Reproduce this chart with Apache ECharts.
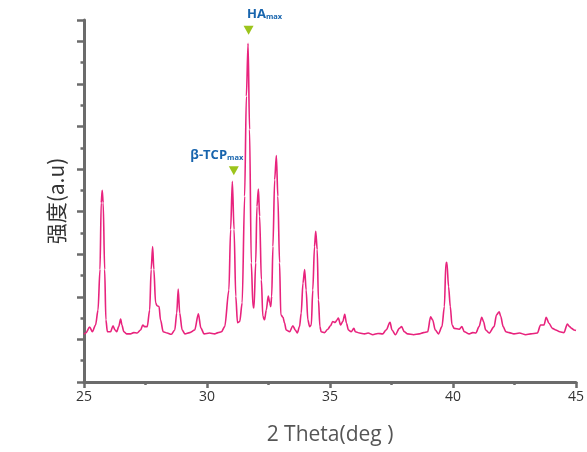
<!DOCTYPE html>
<html><head><meta charset="utf-8">
<script src="https://cdn.jsdelivr.net/npm/echarts@6/dist/echarts.min.js"></script>
<style>html,body{margin:0;padding:0;background:#fff}#c{width:587px;height:452px}</style>
</head><body><div id="c"></div>
<script>
var twoTheta = [25.0,25.07,25.23,25.34,25.47,25.57,25.65,25.70,25.74,25.78,25.84,25.89,25.95,26.08,26.18,26.26,26.33,26.41,26.49,26.54,26.62,26.73,26.89,27.02,27.16,27.30,27.39,27.46,27.57,27.67,27.73,27.79,27.84,27.91,27.97,28.05,28.11,28.22,28.38,28.55,28.69,28.77,28.83,28.89,28.99,29.10,29.30,29.50,29.65,29.75,29.88,30.10,30.31,30.45,30.59,30.72,30.89,30.96,31.03,31.10,31.17,31.24,31.33,31.43,31.53,31.60,31.67,31.73,31.80,31.87,31.91,31.98,32.03,32.09,32.14,32.21,32.27,32.34,32.41,32.49,32.55,32.59,32.63,32.68,32.75,32.82,32.88,32.95,33.00,33.09,33.15,33.22,33.36,33.49,33.59,33.67,33.76,33.83,33.90,33.97,34.03,34.10,34.17,34.24,34.30,34.37,34.42,34.48,34.53,34.59,34.64,34.78,34.91,35.02,35.11,35.21,35.29,35.34,35.43,35.52,35.60,35.67,35.75,35.86,35.97,36.03,36.20,36.40,36.55,36.74,36.95,37.14,37.28,37.44,37.52,37.66,37.82,37.91,38.02,38.16,38.40,38.63,38.80,38.97,39.09,39.17,39.28,39.41,39.55,39.65,39.71,39.75,39.82,39.89,39.96,40.05,40.25,40.36,40.46,40.66,40.80,40.93,41.06,41.17,41.24,41.33,41.47,41.67,41.77,41.88,41.94,42.04,42.15,42.28,42.48,42.70,42.96,43.16,43.43,43.56,43.70,43.79,43.90,44.04,44.18,44.34,44.51,44.65,44.74,44.82,44.92,45.0];
var intensity = [112,115,129,118,134,169,264,421,450,421,264,146,118,118,132,122,118,130,148,134,118,113,113,116,115,122,134,130,130,169,264,318,264,186,179,177,146,118,115,112,122,162,218,162,122,113,116,122,160,127,113,115,113,116,118,130,216,358,471,358,201,139,142,186,436,671,795,593,280,177,174,280,412,453,389,240,154,146,169,202,186,177,201,318,475,532,436,280,158,152,139,122,118,132,122,115,130,162,232,264,216,146,130,134,216,318,354,311,193,130,118,116,124,132,142,140,146,150,134,142,159,138,122,118,126,118,115,113,115,111,114,113,122,140,122,111,126,130,118,113,111,113,116,118,153,146,122,113,130,177,279,281,224,177,134,126,124,130,118,113,116,115,130,152,142,122,115,130,158,165,154,130,118,116,113,115,111,113,115,134,134,152,138,126,122,118,116,136,130,126,122,121];
var peakNames = ['HA', 'β-TCP'];
var peakX = [31.69, 31.09];
var peakY = [826, 496];
var xTicks = [25, 30, 35, 40, 45];

var data = twoTheta.map(function(t,i){return [t, intensity[i]];});
var chart = echarts.init(document.getElementById('c'));
var axisCol = '#6b6b6b';
var richLbl = {a:{fontFamily:'Open Sans',fontWeight:'bold',fontSize:13,color:'#1764ad'},b:{fontFamily:'Open Sans',fontWeight:'bold',fontSize:7.5,color:'#1764ad',padding:[5,0,0,0]}};
chart.setOption({
  animation:false,
  grid:{left:84,right:10,top:20,bottom:70},
  xAxis:{type:'value',min:xTicks[0],max:xTicks[xTicks.length-1],interval:5,
    name:'2 Theta(deg )',nameLocation:'middle',nameGap:43,
    nameTextStyle:{fontFamily:'Open Sans',fontSize:21,color:'#555'},
    axisLine:{onZero:false,lineStyle:{color:axisCol,width:3}},
    axisTick:{show:true,inside:false,length:6,lineStyle:{color:axisCol,width:2.5}},
    minorTick:{show:true,splitNumber:2,length:3,lineStyle:{color:axisCol,width:2.5}},
    axisLabel:{fontFamily:'Open Sans',fontSize:14,color:'#333',margin:8},
    splitLine:{show:false}},
  yAxis:{type:'value',min:0,max:850,interval:100,
    name:'强度(a.u)',nameLocation:'middle',nameGap:17,nameRotate:90,
    nameTextStyle:{fontFamily:'Noto Sans CJK SC',fontSize:21,color:'#333'},
    axisLine:{show:true,lineStyle:{color:axisCol,width:3}},
    axisTick:{show:true,inside:false,length:7,lineStyle:{color:axisCol,width:2.5}},
    minorTick:{show:true,splitNumber:2,length:3.5,lineStyle:{color:axisCol,width:2.5}},
    axisLabel:{show:false},splitLine:{show:false}},
  series:[{
    type:'line',data:data,showSymbol:false,symbol:'none',
    smooth:0.3,smoothMonotone:'x',
    lineStyle:{color:'#e8237d',width:1.6},
    markPoint:{
      symbol:'triangle',symbolRotate:180,symbolSize:[10,9],
      itemStyle:{color:'#9cc41c'},
      data:[
        {coord:[peakX[0],peakY[0]],label:{show:true,position:'top',offset:[16,0],
          formatter:'{a|'+peakNames[0]+'}{b|max}',rich:richLbl}},
        {coord:[peakX[1],peakY[1]],label:{show:true,position:'top',offset:[-17,1],
          formatter:'{a|'+peakNames[1]+'}{b|max}',rich:richLbl}}
      ]
    }
  }]
});
</script></body></html>
